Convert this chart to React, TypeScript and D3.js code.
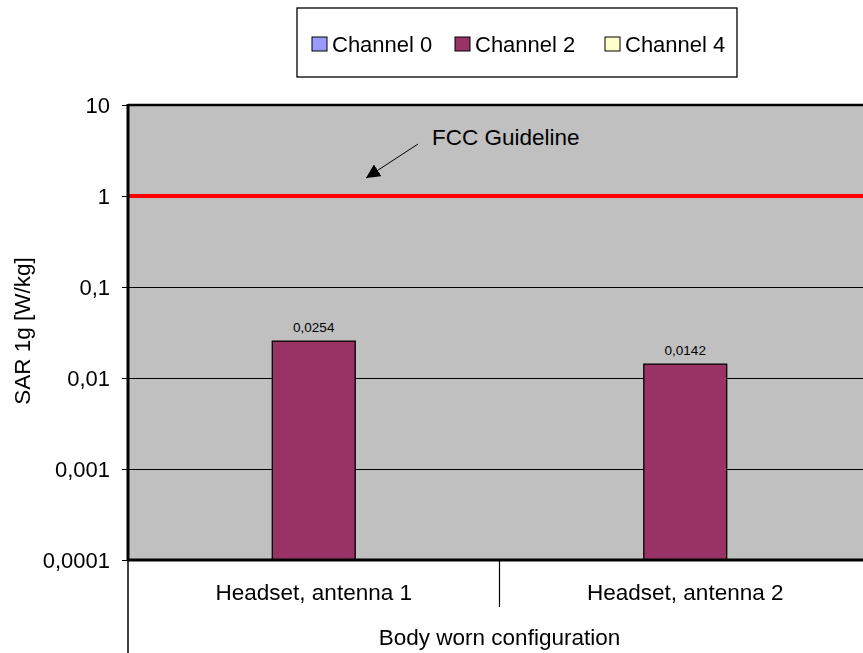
import React, { useEffect, useRef } from 'react';
import * as d3 from 'd3';

const categories = ['Headset, antenna 1', 'Headset, antenna 2'];
const seriesNames = ['Channel 0', 'Channel 2', 'Channel 4'];
const seriesColors = ['#9999FF', '#993366', '#FFFFCC'];
// values per series, one entry per category (null = not measured)
const channel0: (number | null)[] = [null, null];
const channel2: (number | null)[] = [0.0254, 0.0142];
const channel4: (number | null)[] = [null, null];
const dataLabels = ['0,0254', '0,0142'];
const yTicks = [0.0001, 0.001, 0.01, 0.1, 1, 10];
const yTickLabels = ['0,0001', '0,001', '0,01', '0,1', '1', '10'];
const guideline = 1;

const App = () => {
    const svgRef = useRef<SVGSVGElement>(null);

    useEffect(() => {
        const width = 863;
        const height = 653;
        const margin = { top: 105, right: -8, bottom: 93, left: 128 };
        const font = 'Arial, "Liberation Sans", sans-serif';
        const svg = d3.select(svgRef.current);
        svg.selectAll('*').remove();
        svg.attr('width', width).attr('height', height).style('font-family', font);

        const x0 = margin.left;
        const x1 = width - margin.right;
        const yTop = margin.top;
        const yBot = height - margin.bottom;

        const xScale = d3.scaleBand().domain(categories).range([x0, x1]).padding(0);
        const inner = d3.scaleBand().domain(seriesNames).range([0, xScale.bandwidth()]).paddingInner(0).paddingOuter(0.74);
        const yScale = d3.scaleLog().domain([0.0001, 10]).range([yBot, yTop]);

        // plot background
        svg.append('rect')
            .attr('x', x0).attr('y', yTop)
            .attr('width', x1 - x0).attr('height', yBot - yTop)
            .attr('fill', '#C0C0C0');

        // gridlines
        svg.selectAll('.grid')
            .data(yTicks.slice(1, -1))
            .enter().append('line')
            .attr('x1', x0).attr('x2', x1)
            .attr('y1', d => Math.round(yScale(d)) + 0.5).attr('y2', d => Math.round(yScale(d)) + 0.5)
            .attr('stroke', '#000').attr('stroke-width', 1);

        // bars
        const series = [channel0, channel2, channel4];
        series.forEach((vals, si) => {
            vals.forEach((v, ci) => {
                if (v == null) return;
                const bx = (xScale(categories[ci]) as number) + (inner(seriesNames[si]) as number);
                svg.append('rect')
                    .attr('x', bx)
                    .attr('y', yScale(v))
                    .attr('width', inner.bandwidth())
                    .attr('height', yBot - yScale(v))
                    .attr('fill', seriesColors[si])
                    .attr('stroke', '#000').attr('stroke-width', 1.3);
                svg.append('text')
                    .attr('x', bx + inner.bandwidth() / 2)
                    .attr('y', yScale(v) - 9)
                    .attr('text-anchor', 'middle')
                    .attr('font-size', 13.5)
                    .text(dataLabels[ci]);
            });
        });

        // FCC guideline
        svg.append('line')
            .attr('x1', x0).attr('x2', x1)
            .attr('y1', yScale(guideline)).attr('y2', yScale(guideline))
            .attr('stroke', '#FF0000').attr('stroke-width', 4);

        svg.append('text')
            .attr('x', 432).attr('y', 145)
            .attr('font-size', 22.5)
            .text('FCC Guideline');
        svg.append('defs').append('marker')
            .attr('id', 'arrow').attr('viewBox', '0 0 10 10')
            .attr('refX', 10).attr('refY', 5)
            .attr('markerWidth', 14).attr('markerHeight', 14)
            .attr('markerUnits', 'userSpaceOnUse')
            .attr('orient', 'auto')
            .append('path').attr('d', 'M0,0 L10,5 L0,10 Z').attr('fill', '#000');
        svg.append('line')
            .attr('x1', 418).attr('y1', 144).attr('x2', 366).attr('y2', 178)
            .attr('stroke', '#000').attr('stroke-width', 1)
            .attr('marker-end', 'url(#arrow)');

        // frame
        svg.append('line').attr('x1', x0).attr('x2', x1).attr('y1', yTop).attr('y2', yTop)
            .attr('stroke', '#000').attr('stroke-width', 2.5);
        svg.append('line').attr('x1', x0).attr('x2', x1).attr('y1', yBot).attr('y2', yBot)
            .attr('stroke', '#000').attr('stroke-width', 3);

        // y axis
        const yAxis = svg.append('g')
            .attr('transform', `translate(${x0}, 0)`)
            .call(d3.axisLeft(yScale).tickValues(yTicks).tickSize(6).tickPadding(12)
                .tickFormat((d, i) => yTickLabels[i]));
        yAxis.select('.domain').remove();
        yAxis.selectAll('.tick line').attr('stroke', '#000');
        yAxis.selectAll('.tick text').attr('font-size', 22).attr('font-family', font).attr('fill', '#000');
        svg.append('line').attr('x1', x0).attr('x2', x0).attr('y1', yTop - 1).attr('y2', yBot)
            .attr('stroke', '#000').attr('stroke-width', 3);

        svg.append('text')
            .attr('transform', 'translate(30, 331) rotate(-90)')
            .attr('text-anchor', 'middle')
            .attr('font-size', 22.5)
            .text('SAR 1g [W/kg]');

        // category axis
        svg.append('line').attr('x1', x0).attr('x2', x0).attr('y1', yBot).attr('y2', height)
            .attr('stroke', '#000').attr('stroke-width', 1.5);
        categories.slice(1).forEach(c => {
            svg.append('line')
                .attr('x1', xScale(c) as number).attr('x2', xScale(c) as number)
                .attr('y1', yBot).attr('y2', 607)
                .attr('stroke', '#000').attr('stroke-width', 1.2);
        });
        svg.selectAll('.cat')
            .data(categories)
            .enter().append('text')
            .attr('x', d => (xScale(d) as number) + xScale.bandwidth() / 2)
            .attr('y', 600)
            .attr('text-anchor', 'middle')
            .attr('font-size', 22.5)
            .text(d => d);
        svg.append('text')
            .attr('x', (x0 + x1) / 2).attr('y', 645)
            .attr('text-anchor', 'middle')
            .attr('font-size', 22.5)
            .text('Body worn configuration');

        // legend
        svg.append('rect')
            .attr('x', 297).attr('y', 8).attr('width', 440).attr('height', 69)
            .attr('fill', '#fff').attr('stroke', '#000').attr('stroke-width', 1.3);
        const legendX = [312, 455, 605];
        seriesNames.forEach((s, i) => {
            svg.append('rect')
                .attr('x', legendX[i]).attr('y', 37).attr('width', 15).attr('height', 14)
                .attr('fill', seriesColors[i]).attr('stroke', '#000').attr('stroke-width', 1);
            svg.append('text')
                .attr('x', legendX[i] + 20).attr('y', 52)
                .attr('font-size', 22)
                .text(s);
        });
    }, []);

    return (
        <div style={{ position: 'fixed', left: 0, top: 0 }}>
            <svg ref={svgRef}></svg>
        </div>
    );
};

export default App;
